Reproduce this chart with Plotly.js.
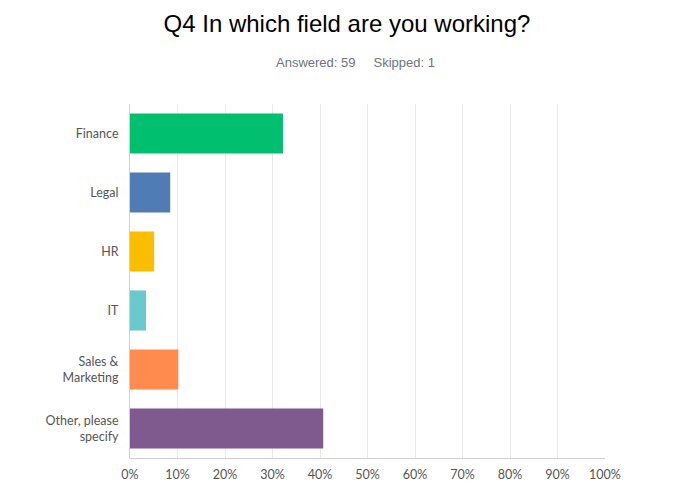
<!DOCTYPE html>
<html><head><meta charset="utf-8">
<script src="https://cdn.plot.ly/plotly-3.0.1.min.js"></script>
<style>html,body{margin:0;padding:0;background:#fff}#c{width:683px;height:500px}</style>
</head><body><div id="c"></div>
<script>
const categories = ["Finance", "Legal", "HR", "IT", "Sales &<br>Marketing", "Other, please<br>specify"];
const values = [32.20, 8.47, 5.08, 3.39, 10.17, 40.68];
const colors = ["#00BF6F", "#507CB6", "#F9BE00", "#6BC8CD", "#FF8B4F", "#7F5A8F"];
const tickVals = [0,10,20,30,40,50,60,70,80,90,100];
const tickText = tickVals.map(v => v + "%");

Plotly.newPlot("c", [{
  type: "bar", orientation: "h",
  x: values, y: categories,
  marker: {color: colors, line: {width: 0}},
  hoverinfo: "x+y"
}], {
  width: 683, height: 500,
  margin: {l: 130, r: 78, t: 104, b: 42},
  paper_bgcolor: "#fff", plot_bgcolor: "#fff",
  showlegend: false,
  bargap: 0.32,
  title: {text: "Q4 In which field are you working?", x: 0.508, xanchor: "center", y: 0.952, yanchor: "middle",
    font: {family: "Liberation Sans, Arial, sans-serif", size: 24, color: "#000"}},
  annotations: [{
    text: "Answered: 59&nbsp;&nbsp;&nbsp;&nbsp;&nbsp;Skipped: 1",
    xref: "paper", yref: "paper", x: 0.474, y: 1.116, xanchor: "center", yanchor: "middle",
    showarrow: false, font: {family: "Liberation Sans, Arial, sans-serif", size: 13, color: "#6a7580"}
  }],
  xaxis: {range: [0, 100], tickvals: tickVals, ticktext: tickText,
    showgrid: true, gridcolor: "#e8e8e8", gridwidth: 1, zeroline: false,
    showline: true, linecolor: "#d0d0d0", linewidth: 1, mirror: false,
    ticks: "", ticklen: 0, ticklabelstandoff: 5,
    tickfont: {family: "Lato, 'Open Sans', sans-serif", size: 12.5, color: "#555"}, fixedrange: true},
  yaxis: {autorange: "reversed", showline: true, linecolor: "#d0d0d0", linewidth: 1,
    showgrid: false, ticks: "", ticklen: 0, ticklabelstandoff: 8,
    tickfont: {family: "Lato, 'Open Sans', sans-serif", size: 12.5, color: "#555"}, fixedrange: true}
}, {displayModeBar: false, staticPlot: true});
</script></body></html>
